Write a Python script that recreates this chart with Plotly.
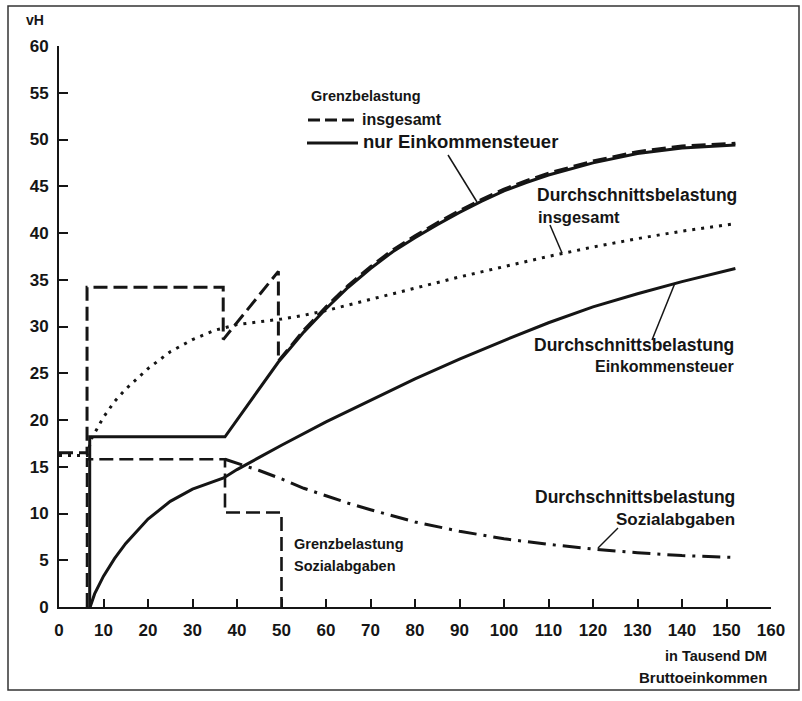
import plotly.graph_objects as go

# ---------------- data ----------------
# Grenzbelastung insgesamt (dashed)
grenz_ges_x = [0, 6.3, 6.3, 36.9, 36.9, 49.3, 49.3, 52, 55, 60, 65, 70, 75, 80, 85, 90, 95,
               100, 105, 110, 120, 130, 140, 152]
grenz_ges_y = [16.5, 16.5, 34.2, 34.2, 28.6, 35.9, 26.3, 27.9, 29.6, 32.1, 34.4, 36.4, 38.2,
               39.7, 41.1, 42.4, 43.6, 44.7, 45.6, 46.4, 47.7, 48.7, 49.3, 49.6]

# Grenzbelastung nur Einkommensteuer (solid)
grenz_est_x = [6.9, 6.9, 37.3, 49.3, 52, 55, 60, 65, 70, 75, 80, 85, 90, 95, 100, 105, 110,
               120, 130, 140, 152]
grenz_est_y = [0, 18.2, 18.2, 26.2, 27.7, 29.4, 31.9, 34.2, 36.2, 38.0, 39.5, 40.9, 42.2,
               43.4, 44.5, 45.4, 46.2, 47.5, 48.5, 49.1, 49.4]

# Grenzbelastung Sozialabgaben (dashed)
grenz_soz_x = [6.3, 6.3, 37.3, 37.3, 50, 50]
grenz_soz_y = [0, 15.8, 15.8, 10.1, 10.1, 0]

# Durchschnittsbelastung insgesamt (dotted)
durch_ges_x = [0, 6.3, 7.3, 10, 12.5, 15, 20, 25, 30, 35, 40, 45, 50, 55, 60, 70, 80, 90,
               100, 110, 120, 130, 140, 152]
durch_ges_y = [16.2, 16.2, 18.0, 20.3, 22.0, 23.3, 25.5, 27.3, 28.6, 29.6, 30.2, 30.5, 30.8,
               31.2, 31.7, 32.9, 34.1, 35.3, 36.4, 37.5, 38.5, 39.4, 40.2, 41.0]

# Durchschnittsbelastung Einkommensteuer (solid)
durch_est_x = [7.0, 8, 10, 12.5, 15, 20, 25, 30, 37, 40, 45, 50, 60, 70, 80, 90, 100, 110,
               120, 130, 140, 152]
durch_est_y = [0, 1.4, 3.3, 5.2, 6.8, 9.4, 11.3, 12.6, 13.8, 14.7, 16.0, 17.3, 19.8, 22.1,
               24.4, 26.5, 28.5, 30.4, 32.1, 33.5, 34.8, 36.2]

# Durchschnittsbelastung Sozialabgaben (dash-dot)
durch_soz_x = [37.3, 40, 45, 50, 55, 60, 65, 70, 80, 90, 100, 110, 120, 130, 140, 152]
durch_soz_y = [15.8, 15.4, 14.6, 13.7, 12.7, 11.9, 11.1, 10.4, 9.1, 8.1, 7.3, 6.7, 6.2,
               5.8, 5.5, 5.3]

x_ticks = list(range(0, 161, 10))
y_ticks = list(range(0, 61, 5))

# ---------------- layout geometry ----------------
W, H = 802, 701
L, R, T, B = 59, 31, 46, 94
PW, PH = W - L - R, H - T - B


def px(xp):
    return (xp - L) / PW


def py(yp):
    return (H - B - yp) / PH


INK = "#151515"
FONT = "Liberation Sans, Arial, sans-serif"

fig = go.Figure()


def add_line(x, y, dash, width=3):
    fig.add_trace(go.Scatter(x=x, y=y, mode="lines",
                             line=dict(color=INK, width=width, dash=dash),
                             hoverinfo="skip", showlegend=False))


add_line(durch_ges_x, durch_ges_y, "3px,6px", 3)
add_line(durch_soz_x, durch_soz_y, "18px,7px,3px,7px", 3)
add_line(grenz_soz_x, grenz_soz_y, "14px,6px", 2.6)
add_line(durch_est_x, durch_est_y, "solid", 3)
add_line(grenz_est_x, grenz_est_y, "solid", 3)
add_line(grenz_ges_x, grenz_ges_y, "14px,6px", 3)

shapes = []


def seg(x0, y0, x1, y1, w=1.5, dash="solid"):
    shapes.append(dict(type="line", xref="paper", yref="paper",
                       x0=px(x0), y0=py(y0), x1=px(x1), y1=py(y1),
                       line=dict(color=INK, width=w, dash=dash)))


# legend samples
seg(308, 120, 358, 120, 3, "12px,5px")
seg(307, 143, 358, 143, 3)
# leader lines
seg(448, 155, 477, 202)
seg(550, 225, 562, 253)
seg(652, 340, 675, 283)
seg(618, 528, 598, 548)
# frame
shapes.append(dict(type="rect", xref="paper", yref="paper",
                   x0=px(8), y0=py(690), x1=px(799), y1=py(6),
                   line=dict(color="#333", width=1.5)))

annotations = []


def txt(s, x, y, size, anchor="left"):
    annotations.append(dict(text=s, xref="paper", yref="paper", x=px(x), y=py(y),
                            xanchor=anchor, yanchor="middle", showarrow=False,
                            font=dict(family=FONT, size=size, color=INK, weight="bold")))


txt("Grenzbelastung", 309, 96, 14.5)
txt("insgesamt", 360, 119, 16)
txt("nur Einkommensteuer", 361, 141, 18.5)
txt("Durchschnittsbelastung", 535, 195, 17.5)
txt("insgesamt", 536, 217, 16.5)
txt("Durchschnittsbelastung", 736, 345, 17.5, "right")
txt("Einkommensteuer", 736, 366, 16, "right")
txt("Durchschnittsbelastung", 737, 497, 17.5, "right")
txt("Sozialabgaben", 737, 519, 17, "right")
txt("Grenzbelastung", 292, 544, 14.5)
txt("Sozialabgaben", 292, 566, 14.5)
txt("vH", 24, 20, 14)
txt("in Tausend DM", 769, 656, 14.5, "right")
txt("Bruttoeinkommen", 769, 677, 15, "right")

fig.update_layout(
    width=W, height=H,
    margin=dict(l=L, r=R, t=T, b=B),
    paper_bgcolor="white", plot_bgcolor="white",
    shapes=shapes, annotations=annotations,
    font=dict(family=FONT, color=INK),
)
fig.update_xaxes(range=[0, 160], tickvals=x_ticks, showline=True, linecolor=INK, linewidth=2,
                 ticks="inside", ticklen=8, tickwidth=2, tickcolor=INK, showgrid=False,
                 zeroline=False, tickfont=dict(family=FONT, size=17, color=INK, weight="bold"),
                 ticklabelstandoff=7)
fig.update_yaxes(range=[0, 60], tickvals=y_ticks, showline=True, linecolor=INK, linewidth=2,
                 ticks="inside", ticklen=9, tickwidth=2, tickcolor=INK, showgrid=False,
                 zeroline=False, tickfont=dict(family=FONT, size=17, color=INK, weight="bold"),
                 ticklabelstandoff=5)

fig.write_html("out.html", config={"displayModeBar": False},
               post_script="document.body.style.margin='0';")
